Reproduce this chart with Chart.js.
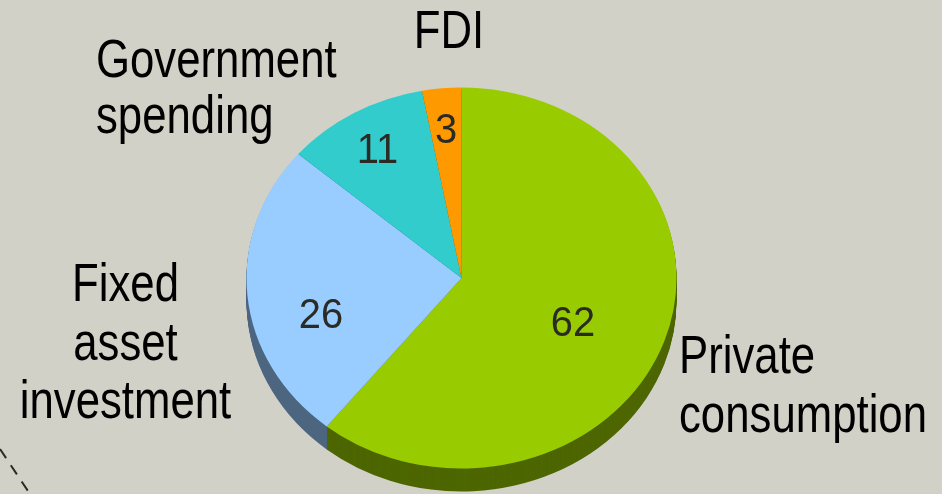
<!DOCTYPE html>
<html><head><meta charset="utf-8">
<script src="https://cdn.jsdelivr.net/npm/chart.js@4"></script>
<style>html,body{margin:0;padding:0;background:#D1D1C7;overflow:hidden}canvas{display:block}</style>
</head><body><canvas id="c" width="942" height="494"></canvas>
<script>
const categories = ["Private consumption","Fixed asset investment","Government spending","FDI"];
const values = [62,26,11,3];
const faceColors = ["#99CC00","#99CCFF","#33CCCC","#FF9900"];
const sideColors = ["#4D6600","#4D6680","#1A6666","#804D00"];
const valueLabelSpots = [[573,336],[321,328],[377.5,163],[446,143]];
const categoryLines = [
 {lines:["Private","consumption"],x:679,y:[373,432],align:"left"},
 {lines:["Fixed","asset","investment"],x:125.5,y:[301,360,418],align:"center"},
 {lines:["Government","spending"],x:96,y:[77,133],align:"left"},
 {lines:["FDI"],x:449,y:[48],align:"center"}
];
const squash = 190.5/215, depth = 23, cx = 461.5, cy = 278;
function applySquash(ctx){ctx.translate(cx,cy);ctx.scale(1,squash);ctx.translate(-cx,-cy);}
function narrowText(ctx,t,x,y,k){ctx.save();ctx.translate(x,y);ctx.scale(k,1);ctx.fillText(t,0,0);ctx.restore();}
const pie3d = {
 id:"pie3d",
 beforeDatasetsDraw(chart){
  const ctx=chart.ctx, arcs=chart.getDatasetMeta(0).data;
  for(let d=depth;d>0;d--){
   ctx.save();ctx.translate(0,d);applySquash(ctx);
   arcs.forEach((a,i)=>{
    const o=a.options;
    a.options=Object.assign(Object.create(o),{backgroundColor:sideColors[i],borderColor:sideColors[i]});
    a.draw(ctx);a.options=o;
   });
   ctx.restore();
  }
  ctx.save();applySquash(ctx);
 },
 afterDatasetsDraw(chart){
  const ctx=chart.ctx;
  ctx.restore();
  ctx.save();
  ctx.textBaseline="alphabetic";ctx.textAlign="center";
  ctx.font='42px "Liberation Sans"';ctx.fillStyle="#2B2B26";
  values.forEach((v,i)=>narrowText(ctx,String(v),valueLabelSpots[i][0],valueLabelSpots[i][1],0.95));
  ctx.font='54px "Liberation Sans"';ctx.fillStyle="#000";
  categoryLines.forEach(c=>{ctx.textAlign=c.align;c.lines.forEach((t,i)=>narrowText(ctx,t,c.x,c.y[i],0.81));});
  ctx.strokeStyle="#2B2B26";ctx.lineWidth=2;ctx.setLineDash([11,8.5]);
  ctx.beginPath();ctx.moveTo(0,449);ctx.lineTo(28,491);ctx.stroke();
  ctx.restore();
 }
};
new Chart(document.getElementById("c"),{
 type:"pie",
 data:{labels:categories,datasets:[{data:values,backgroundColor:faceColors,borderWidth:0,radius:215}]},
 options:{responsive:false,animation:false,layout:{padding:{top:62,right:19}},
  plugins:{legend:{display:false},tooltip:{enabled:false},title:{display:false}}},
 plugins:[pie3d,{id:"bg",beforeDraw(ch){ch.ctx.save();ch.ctx.fillStyle="#D1D1C7";ch.ctx.fillRect(0,0,942,494);ch.ctx.restore();}}]
});
</script></body></html>
